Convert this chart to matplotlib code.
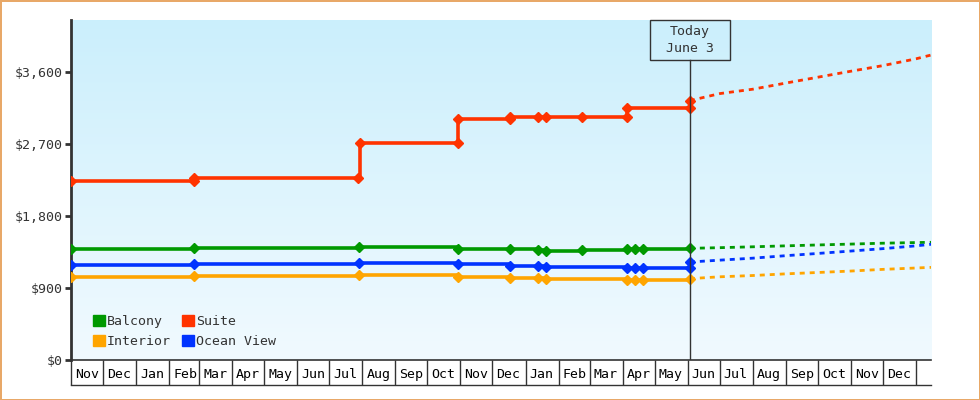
import numpy as np
import matplotlib
matplotlib.use("Agg")
import matplotlib.pyplot as plt
import matplotlib.dates as mdates
from matplotlib.patches import Patch, Rectangle
from matplotlib.ticker import FuncFormatter
from datetime import datetime, timedelta

# price history (step data), one list of dates + prices per cabin type
balcony_dates = ["2022-11-01", "2023-02-24", "2023-07-29", "2023-10-30", "2023-12-17",
                 "2024-01-13", "2024-01-20", "2024-02-23", "2024-04-05", "2024-04-13",
                 "2024-04-20", "2024-06-03"]
balcony_prices = [1387, 1404, 1409, 1390, 1384, 1375, 1362, 1379, 1384, 1384, 1387, 1396]

ocean_dates = ["2022-11-01", "2023-02-24", "2023-07-29", "2023-10-30", "2023-12-17",
               "2024-01-13", "2024-01-20", "2024-04-05", "2024-04-13", "2024-04-20",
               "2024-06-03", "2024-06-03"]
ocean_prices = [1183, 1196, 1212, 1196, 1179, 1170, 1158, 1150, 1146, 1146, 1146, 1225]

interior_dates = ["2022-11-01", "2023-02-24", "2023-07-29", "2023-10-30", "2023-12-17",
                  "2024-01-13", "2024-01-20", "2024-04-05", "2024-04-13", "2024-04-20",
                  "2024-06-03"]
interior_prices = [1033, 1046, 1058, 1042, 1029, 1020, 1012, 1004, 1000, 1000, 1017]

suite_dates = ["2022-11-01", "2023-02-24", "2023-02-24", "2023-07-28", "2023-07-30",
               "2023-10-30", "2023-10-30", "2023-12-17", "2023-12-17", "2024-01-13",
               "2024-01-20", "2024-02-23", "2024-04-05", "2024-04-05", "2024-06-03",
               "2024-06-03"]
suite_prices = [2237, 2237, 2275, 2275, 2712, 2712, 3008, 3008, 3042, 3033,
                3033, 3042, 3042, 3146, 3146, 3242]

# forecast from today onwards
fc_dates = ["2024-06-03", "2024-07-01", "2024-08-01", "2024-09-01", "2024-10-01",
            "2024-11-01", "2024-12-01", "2025-01-01", "2025-01-15"]
fc_balcony = [1396, 1404, 1415, 1427, 1438, 1449, 1460, 1468, 1471]
fc_ocean = [1225, 1248, 1273, 1304, 1332, 1362, 1392, 1427, 1446]
fc_interior = [1017, 1040, 1056, 1077, 1094, 1112, 1133, 1150, 1158]
fc_suite = [3242, 3330, 3385, 3462, 3535, 3610, 3680, 3765, 3812]

yticks = [0, 900, 1800, 2700, 3600]
today = datetime(2024, 6, 3)

GREEN = "#009900"
RED = "#ff3300"
ORANGE = "#ffa500"
BLUE = "#0033ff"
DARK = "#333333"

plt.rcParams['font.family'] = ['DejaVu Sans Mono']


def d(lst):
    return [datetime.strptime(s, "%Y-%m-%d") for s in lst]


fig = plt.figure(figsize=(9.8, 4), dpi=100)
fig.patch.set_facecolor("white")
fig.patch.set_edgecolor("#e8a868")
fig.patch.set_linewidth(2)
ax = fig.add_axes([71 / 980, 40 / 400, 860 / 980, 340 / 400])

# gradient background
grad = np.linspace(0, 1, 256)[:, None]
top = np.array([203, 239, 252]) / 255
bot = np.array([241, 250, 255]) / 255
img = top[None, None, :] * (1 - grad[:, :, None]) + bot[None, None, :] * grad[:, :, None]
ax.imshow(img, extent=[0, 1, 0, 1], transform=ax.transAxes, aspect="auto", zorder=0)

series = [
    (balcony_dates, balcony_prices, fc_balcony, GREEN),
    (ocean_dates, ocean_prices, fc_ocean, BLUE),
    (interior_dates, interior_prices, fc_interior, ORANGE),
    (suite_dates, suite_prices, fc_suite, RED),
]
for dates, prices, fc, col in series:
    ax.plot(d(dates), prices, color=col, lw=2.6, drawstyle="steps-post", zorder=3,
            solid_capstyle="butt")
    ax.plot(d(dates), prices, color=col, lw=0, marker="D", ms=5.5, zorder=4)
    ax.plot(d(fc_dates), fc, color=col, lw=2.0, linestyle=(0, (1.8, 1.8)), zorder=3)

ax.set_xlim(datetime(2022, 11, 1), datetime(2025, 1, 15))
ax.set_ylim(0, 4250)

# today marker
ax.axvline(today, ymin=0, ymax=(4250 - 500) / 4250, color=DARK, lw=1, zorder=5)
half = timedelta(days=37.5)
ax.add_patch(Rectangle((mdates.date2num(today - half), 3750), 75, 500,
                       facecolor="none", edgecolor=DARK, lw=1, zorder=5, clip_on=False))
ax.text(today, 4000, "Today\nJune 3", ha="center", va="center", fontsize=9.5,
        color=DARK, linespacing=1.35, zorder=6)

# axes styling
for s in ["top", "right"]:
    ax.spines[s].set_visible(False)
ax.spines["left"].set_color(DARK)
ax.spines["left"].set_linewidth(2)
ax.spines["bottom"].set_color(DARK)
ax.spines["bottom"].set_linewidth(1.2)

ax.set_yticks(yticks)
ax.yaxis.set_major_formatter(FuncFormatter(lambda v, p: "${:,.0f}".format(v)))
ax.tick_params(axis="y", length=4, width=2, color=DARK, labelcolor=DARK,
               labelsize=9.5, pad=2)

ax.xaxis.set_major_locator(mdates.MonthLocator())
ax.xaxis.set_major_formatter(plt.NullFormatter())
ax.xaxis.set_minor_locator(mdates.MonthLocator(bymonthday=16))
ax.xaxis.set_minor_formatter(mdates.DateFormatter("%b"))
ax.tick_params(axis="x", which="major", length=18, width=1, color=DARK, direction="out")
ax.tick_params(axis="x", which="minor", length=0, labelcolor="black", labelsize=9.5, pad=6)
ax.plot([0, 1], [-25 / 340, -25 / 340], transform=ax.transAxes, color=DARK, lw=1,
        clip_on=False)

# legend
handles = [Patch(color=GREEN, label="Balcony"), Patch(color=ORANGE, label="Interior"),
           Patch(color=RED, label="Suite"), Patch(color=BLUE, label="Ocean View")]
leg = ax.legend(handles=handles, ncol=2, loc="lower left", bbox_to_anchor=(0.012, 0.0),
                frameon=False, fontsize=9.5, handlelength=0.9, handleheight=0.9,
                handletextpad=0.15, columnspacing=0.85, labelspacing=0.55)
for t in leg.get_texts():
    t.set_color(DARK)

fig.savefig("out.png", dpi=100)
